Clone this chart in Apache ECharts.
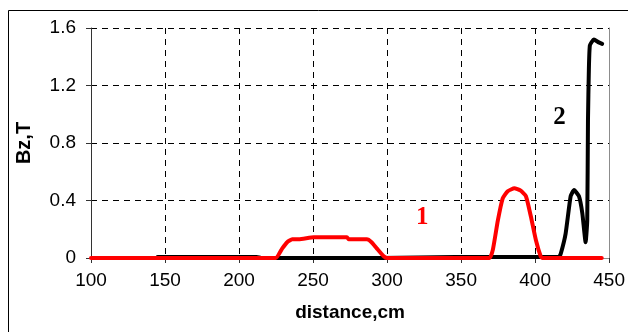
<!DOCTYPE html>
<html>
<head>
<meta charset="utf-8">
<style>
  html, body { margin: 0; padding: 0; background: #fff; }
  #chart { width: 628px; height: 332px; }
</style>
<script src="https://cdn.jsdelivr.net/npm/echarts@6/dist/echarts.min.js"></script>
</head>
<body>
<div id="chart"></div>
<script>
// distance (cm) vs Bz (T)
const curve1 = [ // red
  [100, 0], [224.7, 0], [229.2, 0.067], [232.5, 0.11], [235.9, 0.13], [240.4, 0.13],
  [250.5, 0.144], [272.9, 0.144], [274, 0.13], [286.3, 0.13], [289.5, 0.11],
  [293, 0.067], [297.5, 0.014], [300, 0], [369.2, 0], [371.5, 0.06], [374.8, 0.26],
  [378.1, 0.415], [381.5, 0.465], [386, 0.485], [390, 0.47], [393.8, 0.43],
  [397.1, 0.29], [400.5, 0.125], [403.8, 0.01], [405, 0], [445, 0]
];
const curve2 = [ // black
  [145, 0.007], [212, 0.007], [215, 0], [296, 0], [346, 0.007], [416, 0.007],
  [417.3, 0.03], [420.6, 0.17], [424, 0.43], [426.3, 0.473], [429.6, 0.43],
  [431.9, 0.31], [434.1, 0.11], [435.2, 0.26], [435.7, 0.96], [436.3, 1.31],
  [437, 1.48], [439.7, 1.52], [443, 1.5], [445.3, 1.49]
];
const curveTags = [
  { name: '1', at: [323.7, 0.278], color: '#ff0000' },
  { name: '2', at: [416.4, 0.974], color: '#000000' }
];
const xTicks = { min: 100, max: 450, step: 50 };
const yTicks = { min: 0, max: 1.6, step: 0.4 };

const chart = echarts.init(document.getElementById('chart'), null, { renderer: 'canvas' });

const tickFont = { fontFamily: 'Liberation Sans, Arial, sans-serif', fontSize: 19, color: '#000' };
const nameFont = { fontFamily: 'Liberation Sans, Arial, sans-serif', fontWeight: 'bold', fontSize: 19, color: '#000' };
const dashed = { show: true, lineStyle: { color: '#000', type: [6, 5], width: 1 } };

chart.setOption({
  backgroundColor: '#fff',
  animation: false,
  graphic: [{
    type: 'rect', silent: true, z: -10,
    shape: { x: 8.5, y: 10.5, width: 700, height: 400 },
    style: { fill: 'none', stroke: '#000', lineWidth: 1 }
  }],
  grid: { left: 91, top: 28, right: 16, bottom: 74, show: false },
  xAxis: [{
    type: 'value', min: xTicks.min, max: xTicks.max, interval: xTicks.step,
    name: 'distance,cm', nameLocation: 'middle', nameGap: 45,
    nameTextStyle: { ...nameFont, letterSpacing: 1 },
    axisLine: { show: true, onZero: false, lineStyle: { color: '#333', width: 1 } },
    axisTick: { show: true, inside: false, length: 5, lineStyle: { color: '#333' } },
    axisLabel: { ...tickFont, margin: 13 },
    splitLine: dashed
  }, {
    type: 'value', position: 'top', min: xTicks.min, max: xTicks.max,
    axisLine: { show: true, lineStyle: { color: '#8c8c8c', width: 1 } },
    axisTick: { show: false }, axisLabel: { show: false }, splitLine: { show: false }
  }],
  yAxis: [{
    type: 'value', min: yTicks.min, max: yTicks.max, interval: yTicks.step,
    name: 'Bz,T', nameLocation: 'middle', nameGap: 57, nameRotate: 90,
    nameTextStyle: { ...nameFont, fontSize: 20 },
    axisLine: { show: true, onZero: false, lineStyle: { color: '#333', width: 1 } },
    axisTick: { show: true, inside: false, length: 5, lineStyle: { color: '#333' } },
    axisLabel: { ...tickFont, margin: 15, formatter: v => (v === 0 ? '0' : v.toFixed(1)) },
    splitLine: dashed
  }, {
    type: 'value', position: 'right', min: yTicks.min, max: yTicks.max,
    axisLine: { show: true, lineStyle: { color: '#8c8c8c', width: 1 } },
    axisTick: { show: false }, axisLabel: { show: false }, splitLine: { show: false }
  }],
  series: [
    {
      type: 'line', data: curve2, showSymbol: false, smooth: 0.15,
      lineStyle: { color: '#000', width: 4, join: 'round', cap: 'round' }, z: 3
    },
    {
      type: 'line', data: curve1, showSymbol: false, smooth: 0.15,
      lineStyle: { color: '#ff0000', width: 4, join: 'round', cap: 'round' }, z: 4
    },
    ...curveTags.map(t => ({
      type: 'scatter', symbolSize: 0, z: 5,
      itemStyle: { opacity: 1 },
      data: [t.at],
      label: {
        show: true, position: 'inside', formatter: t.name,
        fontFamily: 'Liberation Serif, Times New Roman, serif', fontWeight: 'bold',
        fontSize: 25, color: t.color
      }
    }))
  ]
});
</script>
</body>
</html>
